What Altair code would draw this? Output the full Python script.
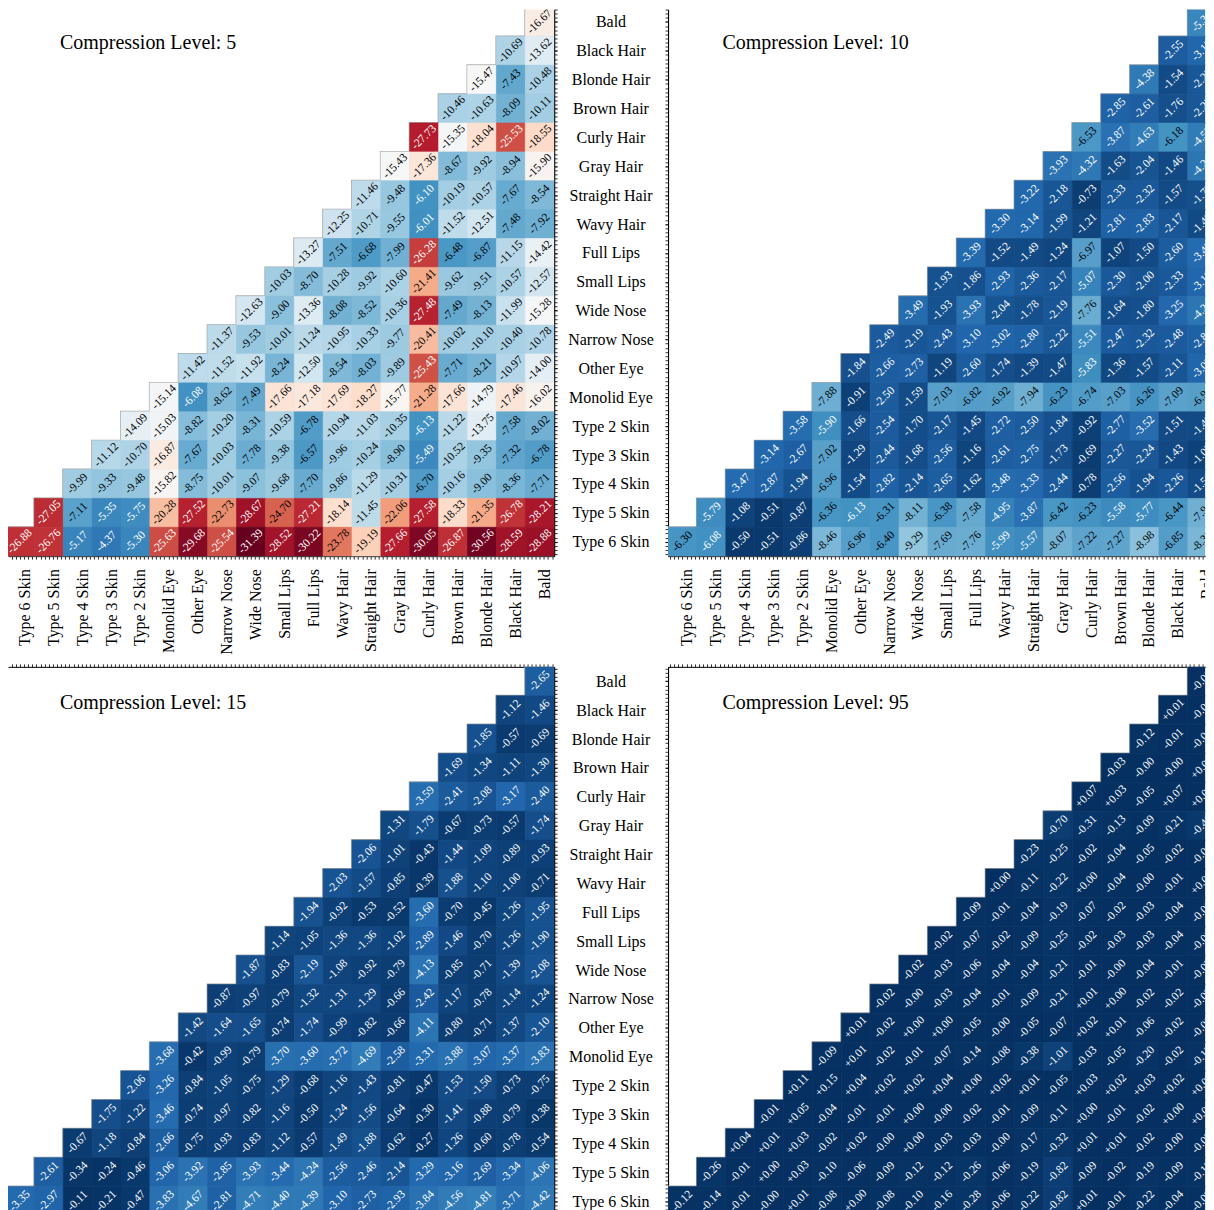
import json
import pandas as pd
import altair as alt

ROWS = ["Bald", "Black Hair", "Blonde Hair", "Brown Hair", "Curly Hair", "Gray Hair",
        "Straight Hair", "Wavy Hair", "Full Lips", "Small Lips", "Wide Nose", "Narrow Nose",
        "Other Eye", "Monolid Eye", "Type 2 Skin", "Type 3 Skin", "Type 4 Skin",
        "Type 5 Skin", "Type 6 Skin"]
COLS = ROWS[::-1]

TITLES = ["Compression Level: 5", "Compression Level: 10",
          "Compression Level: 15", "Compression Level: 95"]

# each row listed left to right, starting at column (18 - row index)
LEVEL5 = [
    [-16.67],
    [-10.69, -13.62],
    [-15.47, -7.43, -10.48],
    [-10.46, -10.63, -8.09, -10.11],
    [-27.73, -15.35, -18.04, -25.53, -18.55],
    [-15.43, -17.36, -8.67, -9.92, -8.94, -15.90],
    [-11.46, -9.48, -6.10, -10.19, -10.57, -7.67, -8.54],
    [-12.25, -10.71, -9.55, -6.01, -11.52, -12.51, -7.48, -7.92],
    [-13.27, -7.51, -6.68, -7.99, -26.28, -6.48, -6.87, -11.15, -14.42],
    [-10.03, -8.70, -10.28, -9.92, -10.60, -21.41, -9.62, -9.51, -10.57, -12.57],
    [-12.63, -9.00, -13.36, -8.08, -8.52, -10.36, -27.48, -7.49, -8.13, -11.99, -15.28],
    [-11.37, -9.53, -10.01, -11.24, -10.95, -10.33, -9.77, -20.41, -10.02, -10.10, -10.40, -10.78],
    [-11.42, -11.52, -11.92, -8.24, -12.50, -8.54, -8.03, -9.89, -25.43, -7.71, -8.21, -10.97, -14.00],
    [-15.14, -6.08, -8.62, -7.49, -17.66, -17.18, -17.69, -18.27, -15.77, -21.28, -17.66, -14.79, -17.46, -16.02],
    [-14.09, -15.03, -8.82, -10.20, -8.31, -10.59, -6.78, -10.94, -11.03, -10.35, -6.13, -11.22, -13.75, -7.58, -8.02],
    [-11.12, -10.70, -16.87, -7.67, -10.03, -7.78, -9.38, -6.57, -9.96, -10.24, -8.90, -5.49, -10.52, -9.35, -7.32, -6.78],
    [-9.99, -9.33, -9.48, -15.82, -8.75, -10.01, -9.07, -9.68, -7.70, -9.86, -11.29, -10.31, -6.70, -10.16, -9.00, -8.36, -7.71],
    [-27.05, -7.11, -5.35, -5.75, -20.28, -27.52, -22.73, -28.67, -24.70, -27.21, -18.14, -11.45, -22.06, -27.58, -18.33, -21.35, -26.78, -28.21],
    [-26.88, -26.76, -5.17, -4.37, -5.30, -25.63, -29.68, -25.54, -31.39, -28.52, -30.22, -23.78, -19.19, -27.66, -30.05, -26.87, -30.56, -28.59, -28.88],
]

LEVEL10 = [
    [-5.31],
    [-2.55, -3.15],
    [-4.38, -1.54, -2.23],
    [-2.85, -2.61, -1.76, -2.22],
    [-6.53, -3.87, -4.63, -6.18, -4.52],
    [-3.93, -4.32, -1.63, -2.04, -1.46, -4.21],
    [-3.22, -2.18, -0.73, -2.33, -2.32, -1.57, -1.79],
    [-3.30, -3.14, -1.99, -1.21, -2.81, -2.83, -2.17, -1.49],
    [-3.39, -1.52, -1.49, -1.24, -6.97, -1.07, -1.50, -2.60, -3.45],
    [-1.93, -1.86, -2.93, -2.36, -2.17, -5.07, -2.30, -2.00, -2.33, -3.19],
    [-3.49, -1.93, -3.93, -2.04, -1.78, -2.19, -7.76, -1.64, -1.80, -3.25, -4.21],
    [-2.49, -2.19, -2.43, -3.10, -3.02, -2.80, -2.22, -5.51, -2.47, -2.32, -2.48, -2.81],
    [-1.84, -2.66, -2.73, -1.19, -2.60, -1.74, -1.39, -1.47, -5.83, -1.36, -1.57, -2.11, -3.05],
    [-7.88, -0.91, -2.50, -1.59, -7.03, -6.82, -6.92, -7.94, -6.23, -6.74, -7.03, -6.26, -7.09, -6.94],
    [-3.58, -5.90, -1.66, -2.54, -1.70, -2.17, -1.45, -2.72, -2.50, -1.84, -0.92, -2.77, -3.52, -1.51, -1.49],
    [-3.14, -2.67, -7.02, -1.29, -2.44, -1.68, -2.56, -1.16, -2.61, -2.75, -1.73, -0.69, -2.27, -2.24, -1.43, -1.05],
    [-3.47, -2.87, -1.94, -6.96, -1.54, -2.82, -2.14, -2.65, -1.62, -3.48, -3.33, -2.44, -0.78, -2.56, -1.94, -2.26, -1.56],
    [-5.79, -1.08, -0.51, -0.87, -6.36, -6.13, -6.31, -8.11, -6.38, -7.58, -4.95, -3.87, -6.42, -6.23, -5.58, -5.77, -6.44, -7.94],
    [-6.30, -6.08, -0.50, -0.51, -0.86, -8.46, -6.96, -6.40, -9.29, -7.69, -7.76, -5.99, -5.57, -8.07, -7.22, -7.27, -8.98, -6.85, -8.36],
]

LEVEL15 = [
    [-2.65],
    [-1.12, -1.46],
    [-1.85, -0.57, -0.69],
    [-1.69, -1.34, -1.11, -1.30],
    [-3.59, -2.41, -2.08, -3.17, -2.40],
    [-1.31, -1.79, -0.67, -0.73, -0.57, -1.74],
    [-2.06, -1.01, -0.43, -1.44, -1.09, -0.89, -0.93],
    [-2.03, -1.57, -0.85, -0.39, -1.88, -1.10, -1.00, -0.71],
    [-1.94, -0.92, -0.53, -0.52, -3.60, -0.70, -0.45, -1.26, -1.95],
    [-1.14, -1.05, -1.36, -1.36, -1.02, -2.89, -1.46, -0.70, -1.26, -1.90],
    [-1.87, -0.83, -2.19, -1.08, -0.92, -0.79, -4.13, -0.85, -0.71, -1.39, -2.08],
    [-0.87, -0.97, -0.79, -1.32, -1.31, -1.29, -0.66, -2.42, -1.17, -0.78, -1.14, -1.24],
    [-1.42, -1.64, -1.65, -0.74, -1.74, -0.99, -0.82, -0.66, -4.11, -0.80, -0.71, -1.37, -2.10],
    [-3.68, -0.42, -0.99, -0.79, -3.70, -3.60, -3.72, -4.69, -2.58, -3.31, -3.88, -3.07, -3.37, -3.83],
    [-2.06, -3.26, -0.84, -1.05, -0.75, -1.29, -0.68, -1.16, -1.43, -0.81, -0.47, -1.53, -1.50, -0.73, -0.75],
    [-1.75, -1.22, -3.46, -0.74, -0.97, -0.82, -1.16, -0.50, -1.24, -1.56, -0.64, -0.30, -1.41, -0.88, -0.79, -0.38],
    [-0.67, -1.18, -0.84, -2.66, -0.75, -0.93, -0.83, -1.12, -0.57, -1.49, -1.88, -0.62, -0.27, -1.26, -0.60, -0.78, -0.54],
    [-2.61, -0.34, -0.24, -0.46, -3.06, -3.92, -2.85, -3.93, -3.44, -4.24, -2.56, -2.46, -2.14, -3.29, -3.16, -2.69, -3.34, -4.06],
    [-3.35, -2.97, -0.11, -0.21, -0.47, -3.83, -4.67, -2.81, -4.71, -4.40, -4.39, -3.10, -2.73, -2.93, -3.84, -4.56, -4.81, -3.71, -4.42],
]

LEVEL95 = [
    [-0.06],
    [+0.01, -0.04],
    [-0.12, -0.01, -0.04],
    [-0.03, -0.00, -0.00, +0.00],
    [+0.07, +0.03, -0.05, +0.07, +0.01],
    [-0.70, -0.31, -0.13, -0.09, -0.21, -0.46],
    [-0.23, -0.25, -0.02, -0.04, -0.05, -0.02, -0.04],
    [+0.00, -0.11, -0.22, +0.00, -0.04, -0.00, -0.01, +0.00],
    [-0.09, -0.01, -0.04, -0.19, -0.07, -0.02, -0.03, -0.04, -0.06],
    [-0.02, -0.07, -0.02, -0.09, -0.25, -0.02, -0.03, -0.03, -0.04, -0.06],
    [-0.02, -0.03, -0.06, -0.04, -0.04, -0.21, -0.01, -0.00, -0.04, -0.01, -0.02],
    [-0.02, -0.00, -0.03, -0.04, -0.01, -0.09, -0.21, +0.01, +0.00, -0.02, -0.02, -0.03],
    [+0.01, -0.02, +0.00, +0.00, -0.05, -0.00, -0.05, -0.07, +0.02, +0.01, -0.06, -0.02, -0.00],
    [-0.09, +0.01, -0.02, -0.01, -0.07, -0.14, -0.08, -0.38, -1.01, -0.03, -0.05, -0.20, -0.02, -0.13],
    [+0.11, +0.15, +0.04, +0.02, +0.02, +0.04, +0.00, +0.02, +0.01, -0.05, +0.03, +0.02, +0.03, +0.02, +0.05],
    [-0.01, +0.05, -0.04, -0.01, -0.01, +0.00, -0.00, -0.02, -0.01, -0.09, -0.11, +0.00, -0.01, -0.02, +0.00, +0.00],
    [+0.04, +0.01, +0.03, -0.02, +0.02, -0.00, +0.00, -0.03, -0.03, -0.00, -0.17, -0.32, +0.01, +0.01, -0.02, -0.00, -0.02],
    [-0.26, -0.01, +0.00, +0.03, -0.10, -0.06, -0.09, -0.12, -0.12, -0.26, -0.06, -0.19, -0.82, -0.09, -0.02, -0.19, -0.09, -0.12],
    [-0.12, -0.14, -0.01, -0.00, +0.01, -0.08, +0.00, -0.08, -0.10, -0.16, -0.28, -0.06, -0.22, -0.82, +0.01, -0.01, -0.22, -0.04, -0.09],
]

# RdBu (low = red, high = blue), fixed colour limits shared by all panels
RDBU = ["#67001f", "#b2182b", "#d6604d", "#f4a582", "#fddbc7", "#f7f7f7",
        "#d1e5f0", "#92c5de", "#4393c3", "#2166ac", "#053061"]
VMIN, VMAX = -31.0, 0.0
CDOMAIN = [VMIN + (VMAX - VMIN) * i / 10 for i in range(11)]

N = len(ROWS)
SUB = 7                 # minor ticks per cell
CELL = 28.9             # pixel size of one cell
FONT = "Liberation Serif"

# visible window of each panel, in cell units
X_LEFT = (2.5 / CELL, N)      # left column panels
X_RIGHT = (0.0, 18.6)         # right column panels (cut at the window edge)
Y_TOP = (2.0 / CELL, N)       # top row panels
Y_BOTTOM = (0.0, N)           # bottom row panels


def table(vals):
    recs = []
    for i, row in enumerate(vals):
        start = N - 1 - i
        for k, v in enumerate(row):
            c = start + k
            recs.append(dict(r=i, r1=i + 1, rm=i + 0.5, c=c, c1=c + 1, cm=c + 0.5,
                             v=v, label=format(v, "+.2f"),
                             tc="white" if (v > -6.15 or v < -25) else "black"))
    return pd.DataFrame(recs)


def clip_rect(w, h):
    return alt.ExprRef(expr="pathShape('M0,0H%.2fV%.2fH0Z')" % (w, h))


def panel(vals, title, xwin, ywin, x_orient, y_orient, x_labels, y_labels):
    df = table(vals)
    w = (xwin[1] - xwin[0]) * CELL
    h = (ywin[1] - ywin[0]) * CELL
    clip = clip_rect(w, h)
    xs = alt.Scale(domain=list(xwin), nice=False, zero=False)
    ys = alt.Scale(domain=list(ywin), nice=False, zero=False, reverse=True)
    cs = alt.Scale(domain=CDOMAIN, range=RDBU, clamp=True, interpolate="rgb")
    centers = [j + 0.5 for j in range(N)]
    minor = [(k + 0.5) / SUB for k in range(N * SUB)]
    yc = [t for t in centers if ywin[0] <= t <= ywin[1]]
    xm = [t for t in minor if xwin[0] <= t <= xwin[1]]
    ym = [t for t in minor if ywin[0] <= t <= ywin[1]]
    common = dict(tickSize=3, tickColor="black", tickWidth=0.8,
                  domainColor="black", domainWidth=1, grid=False, title=None,
                  labelFont=FONT, labelFontSize=16, labelColor="black",
                  labelOverlap=False, labelFlush=False)
    x_axis = alt.Axis(orient=x_orient, values=xm, labels=False, **common)
    y_axis = alt.Axis(orient=y_orient, values=yc, labels=y_labels,
                      labelExpr=json.dumps(ROWS) + "[floor(datum.value)]",
                      labelAlign="center", labelBaseline="middle",
                      labelPadding=53.4, **common)
    y_minor = alt.Axis(orient=y_orient, values=ym, labels=False, **common)

    base = alt.Chart(df)
    X = lambda f: alt.X(f, scale=xs, axis=x_axis)
    Y = lambda f: alt.Y(f, scale=ys, axis=y_axis)
    outline = base.mark_rect(fillOpacity=0, stroke="#a8a8a8", strokeWidth=2, clip=clip).encode(
        x=X("c:Q"), x2="c1:Q", y=Y("r:Q"), y2="r1:Q")
    cells = base.mark_rect(strokeWidth=0.6, clip=clip).encode(
        x=X("c:Q"), x2="c1:Q", y=Y("r:Q"), y2="r1:Q",
        color=alt.Color("v:Q", scale=cs, legend=None),
        stroke=alt.Stroke("v:Q", scale=cs, legend=None))
    text = base.mark_text(font=FONT, fontSize=11.5, angle=315, align="center",
                          baseline="middle", clip=clip).encode(
        x=X("cm:Q"), y=Y("rm:Q"), text="label:N",
        fill=alt.Fill("tc:N", scale=None))
    layers = [outline, cells, text]
    if x_labels:
        ldf = pd.DataFrame({"name": COLS, "pos": centers})
        xl = alt.Chart(ldf).mark_text(
            font=FONT, fontSize=16, angle=270, align="right", baseline="middle",
            dy=5, color="black", clip=clip_rect(w, h + 140)).encode(
            x=X("pos:Q"), y=alt.value(h + 13), text="name:N")
        layers.append(xl)
    main = alt.layer(*layers)
    ticks = base.mark_point(opacity=0, clip=clip).encode(
        x=alt.X("cm:Q", scale=xs, axis=None),
        y=alt.Y("rm:Q", scale=ys, axis=y_minor))
    head = alt.Chart(pd.DataFrame({"t": [title]})).mark_text(
        font=FONT, fontSize=20, align="left", baseline="middle", color="black").encode(
        x=alt.value(54.5 - xwin[0] * CELL),
        y=alt.value(36 - ywin[0] * CELL), text="t:N")
    return alt.layer(main, ticks, head).resolve_scale(
        x="independent", y="independent").properties(width=w, height=h)


p1 = panel(LEVEL5, TITLES[0], X_LEFT, Y_TOP, "bottom", "right", True, True)
p2 = panel(LEVEL10, TITLES[1], X_RIGHT, Y_TOP, "bottom", "left", True, False)
p3 = panel(LEVEL15, TITLES[2], X_LEFT, Y_BOTTOM, "top", "right", False, True)
p4 = panel(LEVEL95, TITLES[3], X_RIGHT, Y_BOTTOM, "top", "left", False, False)

chart = alt.concat(p1, p2, p3, p4, columns=2, spacing={"row": 109.9, "column": 113.6},
                   bounds="flush").properties(padding=0, background="white"
).configure_view(stroke=None)

chart.save("out.html", embed_options={"renderer": "svg", "actions": False})
